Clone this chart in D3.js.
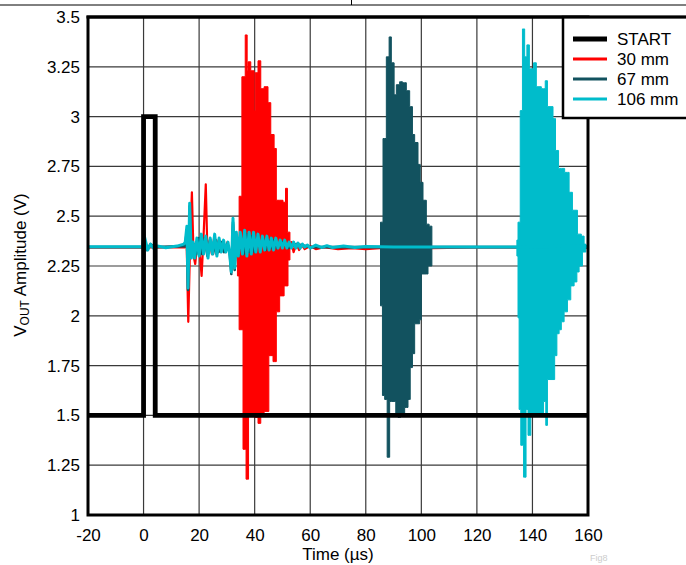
<!DOCTYPE html>
<html><head><meta charset="utf-8">
<script src="https://cdn.jsdelivr.net/npm/d3@7"></script>
<style>body{margin:0;background:#fff}text{font-family:"Liberation Sans",Arial,sans-serif}</style>
</head><body><svg id="c" width="686" height="565"></svg>
<script>
// ---- data ----
const xTicks = [-20, 0, 20, 40, 60, 80, 100, 120, 140, 160];
const xTickLabels = ["-20", "0", "20", "40", "60", "80", "100", "120", "140", "160"];
const yTicks = [1, 1.25, 1.5, 1.75, 2, 2.25, 2.5, 2.75, 3, 3.25, 3.5];
const yTickLabels = ["1", "1.25", "1.5", "1.75", "2", "2.25", "2.5", "2.75", "3", "3.25", "3.5"];
const seriesNames = ["START", "30 mm", "67 mm", "106 mm"];
const seriesColors = ["#000000", "#ff0000", "#12525f", "#00bccb"];

const startT = [-20, 0, 0, 4.2, 4.2, 160];
const startV = [1.5, 1.5, 3.0, 3.0, 1.5, 1.5];

// baseline / ringing traces
const redTraceT = [-20, 14.8, 15.5, 16.1, 16.7, 17.4, 18.0, 18.6, 19.4, 20.2, 20.9, 21.6, 22.4, 23.0, 23.8, 24.6, 25.4, 26.2, 27.0, 27.8, 28.6, 29.4, 30.2, 31.0, 31.6, 32.2, 32.8, 33.4, 33.8, 52.7, 53.2, 54, 55, 56, 57, 58, 60, 62, 65, 70, 75, 80, 85, 104, 120, 134, 160];
const redTraceV = [2.343, 2.343, 2.38, 1.97, 2.33, 2.62, 2.30, 2.26, 2.38, 2.32, 2.20, 2.40, 2.66, 2.31, 2.38, 2.31, 2.39, 2.31, 2.38, 2.32, 2.37, 2.32, 2.37, 2.32, 2.24, 2.46, 2.25, 2.40, 2.34, 2.34, 2.37, 2.32, 2.36, 2.33, 2.355, 2.335, 2.35, 2.335, 2.345, 2.335, 2.34, 2.335, 2.34, 2.34, 2.343, 2.343, 2.343];

const darkTraceT = [-20, -0.3, 0.2, 1.2, 2.5, 4, 15, 15.6, 16.0, 16.6, 17.2, 18, 19, 20, 21, 22, 23, 24, 25, 26, 27, 28, 29, 30, 31, 31.6, 32.2, 32.8, 33.4, 34.2, 35, 36, 37, 38, 39, 40, 41, 42, 43, 44, 45, 46, 47, 48, 50, 52, 55, 60, 70, 85.3, 103.8, 160];
const darkTraceV = [2.345, 2.345, 2.39, 2.33, 2.36, 2.345, 2.35, 2.43, 2.13, 2.55, 2.30, 2.36, 2.31, 2.39, 2.31, 2.39, 2.30, 2.38, 2.31, 2.38, 2.32, 2.37, 2.32, 2.36, 2.32, 2.21, 2.47, 2.23, 2.40, 2.31, 2.40, 2.31, 2.41, 2.32, 2.40, 2.32, 2.40, 2.33, 2.39, 2.33, 2.38, 2.34, 2.38, 2.34, 2.37, 2.34, 2.36, 2.345, 2.345, 2.345, 2.345, 2.345];

const cyanTraceT = [-20, -0.4, 0.1, 0.8, 1.5, 2.5, 3.5, 5, 8, 12, 14.5, 15.0, 15.6, 16.0, 16.6, 17.2, 17.8, 18.4, 19.2, 20.0, 20.8, 21.6, 22.4, 23.2, 24.0, 24.8, 25.6, 26.4, 27.2, 28.0, 28.8, 29.6, 30.4, 31.0, 31.6, 32.2, 32.8, 33.4, 34.1, 34.8, 35.6, 36.4, 37.2, 38.0, 38.8, 39.6, 40.4, 41.2, 42.0, 42.8, 43.6, 44.4, 45.2, 46.0, 46.8, 47.6, 48.4, 49.2, 50.0, 50.8, 51.6, 52.4, 53.2, 54.0, 54.8, 55.6, 56.4, 57.2, 58.0, 59, 60, 62, 64, 66, 68, 72, 76, 80, 90, 134.4, 159.2, 160];
const cyanTraceV = [2.347, 2.347, 2.41, 2.37, 2.33, 2.36, 2.34, 2.35, 2.342, 2.35, 2.36, 2.37, 2.45, 2.14, 2.565, 2.29, 2.37, 2.29, 2.39, 2.30, 2.41, 2.31, 2.40, 2.29, 2.39, 2.31, 2.41, 2.30, 2.39, 2.32, 2.38, 2.32, 2.37, 2.31, 2.22, 2.49, 2.24, 2.42, 2.30, 2.42, 2.31, 2.43, 2.30, 2.42, 2.31, 2.42, 2.32, 2.41, 2.32, 2.40, 2.33, 2.40, 2.33, 2.39, 2.33, 2.39, 2.34, 2.38, 2.34, 2.38, 2.34, 2.37, 2.34, 2.37, 2.34, 2.365, 2.34, 2.36, 2.345, 2.355, 2.34, 2.355, 2.343, 2.352, 2.343, 2.35, 2.343, 2.348, 2.345, 2.345, 2.35, 2.345];

// burst envelopes (upper / lower)
const redHiT = [33.8, 34.4, 35.4, 36.6, 37.3, 37.6, 38.6, 39.8, 40.2, 41.2, 42.2, 43.4, 44.8, 45.8, 47.0, 47.8, 50.2, 51.1, 51.8, 52.7];
const redHiV = [2.36, 2.60, 3.20, 3.41, 3.23, 3.275, 3.23, 3.03, 3.22, 3.28, 3.14, 3.15, 3.07, 2.91, 2.84, 2.58, 2.57, 2.64, 2.42, 2.36];
const redLoT = [33.8, 34.4, 35.8, 36.9, 37.8, 40.0, 41.2, 42.2, 43.4, 45.1, 46.6, 47.8, 49.0, 50.6, 52.0, 52.7];
const redLoV = [2.20, 1.93, 1.33, 1.18, 1.50, 1.49, 1.46, 1.50, 1.52, 1.80, 1.77, 2.02, 2.10, 2.15, 2.28, 2.30];

const darkHiT = [85.3, 86.2, 87.4, 88.4, 89.2, 90.2, 91.0, 92.2, 93.2, 94.6, 95.8, 96.8, 97.6, 98.8, 99.6, 100.6, 101.8, 102.8, 103.8];
const darkHiV = [2.47, 2.89, 3.30, 3.40, 3.27, 3.11, 3.16, 3.175, 3.17, 3.13, 3.05, 2.91, 2.87, 2.76, 2.67, 2.58, 2.46, 2.45, 2.36];
const darkLoT = [85.3, 86.0, 86.8, 87.7, 88.6, 90.8, 91.6, 92.5, 94.0, 95.2, 96.0, 96.8, 97.6, 99.4, 100.0, 102.4, 103.8];
const darkLoV = [2.05, 1.60, 1.58, 1.29, 1.57, 1.51, 1.49, 1.51, 1.54, 1.58, 1.74, 1.81, 1.96, 1.98, 2.21, 2.25, 2.33];

const cyanHiT = [134.4, 134.8, 135.6, 136.4, 137.2, 138.0, 138.9, 140.4, 141.4, 143.2, 144.6, 145.4, 147.4, 148.3, 149.4, 151.6, 153.2, 154.4, 156.2, 157.6, 158.6, 159.2];
const cyanHiV = [2.38, 2.47, 3.03, 3.44, 3.30, 3.36, 3.24, 3.27, 3.15, 3.14, 3.18, 3.05, 2.99, 2.83, 2.74, 2.72, 2.62, 2.53, 2.41, 2.40, 2.36, 2.35];
const cyanLoT = [134.4, 134.8, 135.2, 135.8, 136.8, 137.7, 138.4, 139.4, 141.6, 144.0, 144.8, 145.4, 148.0, 148.8, 149.6, 150.4, 151.4, 152.6, 153.8, 155.0, 156.0, 156.8, 158.0, 159.2];
const cyanLoV = [2.30, 1.99, 1.53, 1.35, 1.19, 1.53, 1.40, 1.50, 1.51, 1.57, 1.45, 1.68, 1.80, 1.91, 1.93, 1.97, 2.02, 2.08, 2.15, 2.17, 2.22, 2.25, 2.32, 2.34];

// ---- drawing ----
const svg = d3.select("#c");
svg.append("rect").attr("width", 686).attr("height", 565).attr("fill", "#fff");
const x = d3.scaleLinear().domain([-20, 160]).range([88, 588]);
const y = d3.scaleLinear().domain([1, 3.5]).range([515, 17]);

// page decoration lines at the top
svg.append("line").attr("x1", 0).attr("x2", 686).attr("y1", 5).attr("y2", 5).attr("stroke", "#000").attr("stroke-width", 1);
svg.append("line").attr("x1", 351.5).attr("x2", 351.5).attr("y1", 0).attr("y2", 5).attr("stroke", "#000").attr("stroke-width", 1);

// grid
const grid = svg.append("g").attr("stroke", "#3a3a3a").attr("stroke-width", 1.2);
grid.selectAll(".gx").data(xTicks.slice(1, -1)).join("line")
  .attr("x1", d => x(d)).attr("x2", d => x(d)).attr("y1", y(3.5)).attr("y2", y(1));
grid.selectAll(".gy").data(yTicks.slice(1, -1)).join("line")
  .attr("y1", d => y(d)).attr("y2", d => y(d)).attr("x1", x(-20)).attr("x2", x(160));

svg.append("clipPath").attr("id", "clip").append("rect")
  .attr("x", 88).attr("y", 17).attr("width", 500).attr("height", 498);
const plot = svg.append("g").attr("clip-path", "url(#clip)");

const zip = (T, V) => T.map((t, i) => ({ t, v: V[i] }));
const line = d3.line().x(d => x(d.t)).y(d => y(d.v));
function envelope(hiT, hiV, loT, loV) {
  const ts = Array.from(new Set([...hiT, ...loT])).sort((a, b) => a - b);
  const look = (T, V, t) => V[Math.max(0, d3.bisectRight(T, t) - 1)];
  return ts.map(t => ({ t, hi: look(hiT, hiV, t), lo: look(loT, loV, t) }));
}
const area = d3.area().curve(d3.curveStepAfter)
  .x(d => x(d.t)).y0(d => y(d.lo)).y1(d => y(d.hi));

const series = [
  { trace: zip(redTraceT, redTraceV), env: envelope(redHiT, redHiV, redLoT, redLoV), color: seriesColors[1], w: 2.2 },
  { trace: zip(darkTraceT, darkTraceV), env: envelope(darkHiT, darkHiV, darkLoT, darkLoV), color: seriesColors[2], w: 2.6 },
  { trace: zip(cyanTraceT, cyanTraceV), env: envelope(cyanHiT, cyanHiV, cyanLoT, cyanLoV), color: seriesColors[3], w: 3 }
];
series.forEach(s => {
  plot.append("path").attr("d", area(s.env)).attr("fill", s.color)
    .attr("stroke", s.color).attr("stroke-width", 1);
  plot.append("path").attr("d", line(s.trace)).attr("fill", "none")
    .attr("stroke", s.color).attr("stroke-width", s.w).attr("stroke-linejoin", "round");
});

// START pulse on top
plot.append("path").attr("d", line(zip(startT, startV))).attr("fill", "none")
  .attr("stroke", seriesColors[0]).attr("stroke-width", 4.8).attr("stroke-linejoin", "miter");

// frame
svg.append("rect").attr("x", 88).attr("y", 17).attr("width", 500).attr("height", 498)
  .attr("fill", "none").attr("stroke", "#000").attr("stroke-width", 3);

// axes
const yAxis = svg.append("g").attr("transform", "translate(88,0)")
  .call(d3.axisLeft(y).tickValues(yTicks).tickFormat((d, i) => yTickLabels[i]).tickSize(0).tickPadding(8));
const xAxis = svg.append("g").attr("transform", "translate(0,515)")
  .call(d3.axisBottom(x).tickValues(xTicks).tickFormat((d, i) => xTickLabels[i]).tickSize(0).tickPadding(14));
[xAxis, yAxis].forEach(a => {
  a.select(".domain").remove();
  a.selectAll("text").attr("font-size", 17).attr("fill", "#000")
    .attr("font-family", '"Liberation Sans", Arial, sans-serif');
});

// axis titles
svg.append("text").attr("x", 338).attr("y", 560).attr("text-anchor", "middle")
  .attr("font-size", 17).text("Time (µs)");
const yl = svg.append("text").attr("transform", "translate(26,265) rotate(-90)")
  .attr("text-anchor", "middle").attr("font-size", 17);
yl.append("tspan").text("V");
yl.append("tspan").attr("font-size", 12).attr("dy", 3).text("OUT");
yl.append("tspan").attr("dy", -3).text(" Amplitude (V)");

// faint figure tag at the bottom
svg.append("text").attr("x", 590).attr("y", 561).attr("font-size", 9).attr("fill", "#cccccc").text("Fig8");

// legend
const lg = svg.append("g");
lg.append("rect").attr("x", 563).attr("y", 17).attr("width", 200).attr("height", 101)
  .attr("fill", "#fff").attr("stroke", "#000").attr("stroke-width", 2.5);
svg.append("line").attr("x1", 86.5).attr("x2", 686).attr("y1", 17).attr("y2", 17)
  .attr("stroke", "#000").attr("stroke-width", 3);
const rows = [39, 59, 79, 99];
seriesNames.forEach((n, i) => {
  lg.append("line").attr("x1", 573).attr("x2", 607).attr("y1", rows[i]).attr("y2", rows[i])
    .attr("stroke", seriesColors[i]).attr("stroke-width", i === 0 ? 5 : 3);
  lg.append("text").attr("x", 617).attr("y", rows[i]).attr("dy", "0.36em")
    .attr("font-size", 17).text(n);
});
</script></body></html>
